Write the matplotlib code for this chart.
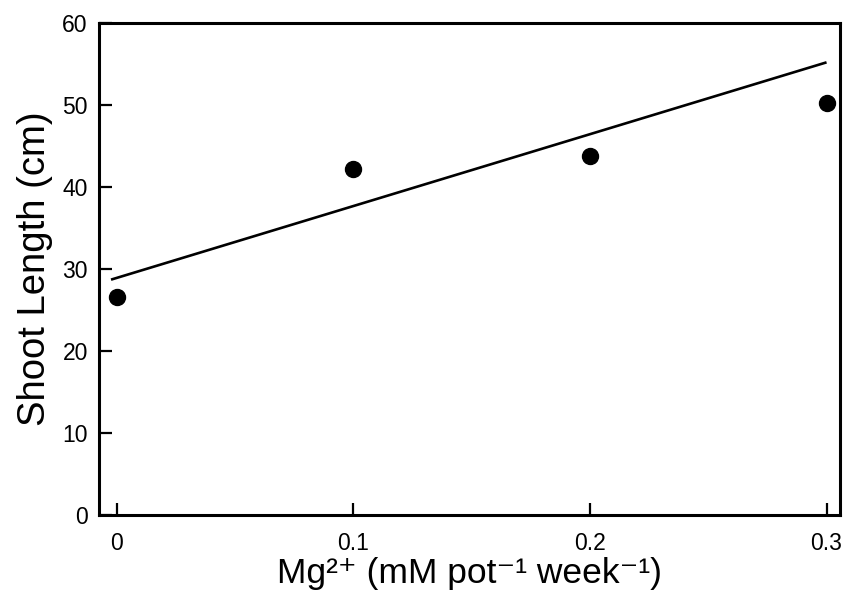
import matplotlib
matplotlib.use("Agg")
import matplotlib.pyplot as plt

# Measured points
mg_dose = [0.0, 0.1, 0.2, 0.3]
shoot_length = [26.6, 42.2, 43.8, 50.2]

# Fitted line end points as drawn
fit_x = [-0.0025, 0.300]
fit_y = [28.7, 55.2]

x_ticks = [0, 0.1, 0.2, 0.3]
x_tick_labels = ["0", "0.1", "0.2", "0.3"]
y_ticks = [0, 10, 20, 30, 40, 50, 60]

plt.rcParams["font.family"] = ["Liberation Sans", "DejaVu Sans"]

fig = plt.figure(figsize=(8.48, 6.0), dpi=100)
ax = fig.add_axes([0.1167, 0.1417, 0.8739, 0.82])

ax.plot(fit_x, fit_y, color="black", linewidth=1.9, solid_capstyle="butt")
ax.plot(mg_dose, shoot_length, "o", color="black", markersize=11.5)

ax.set_xlim(-0.0076, 0.3057)
ax.set_ylim(0, 60)
ax.set_xticks(x_ticks)
ax.set_xticklabels(x_tick_labels)
ax.set_yticks(y_ticks)

for side in ["left", "right", "top", "bottom"]:
    ax.spines[side].set_linewidth(2.2)

ax.tick_params(direction="in", length=9, width=1.6, labelsize=16.5)
ax.tick_params(axis="x", pad=12)
ax.tick_params(axis="y", pad=8)

ax.set_xlabel("Mg\u00b2\u207a (mM pot\u207b\u00b9 week\u207b\u00b9)", fontsize=25.5, labelpad=2)
ax.set_ylabel("Shoot Length (cm)", fontsize=27.5, labelpad=7)

fig.savefig("out.png", dpi=100)
